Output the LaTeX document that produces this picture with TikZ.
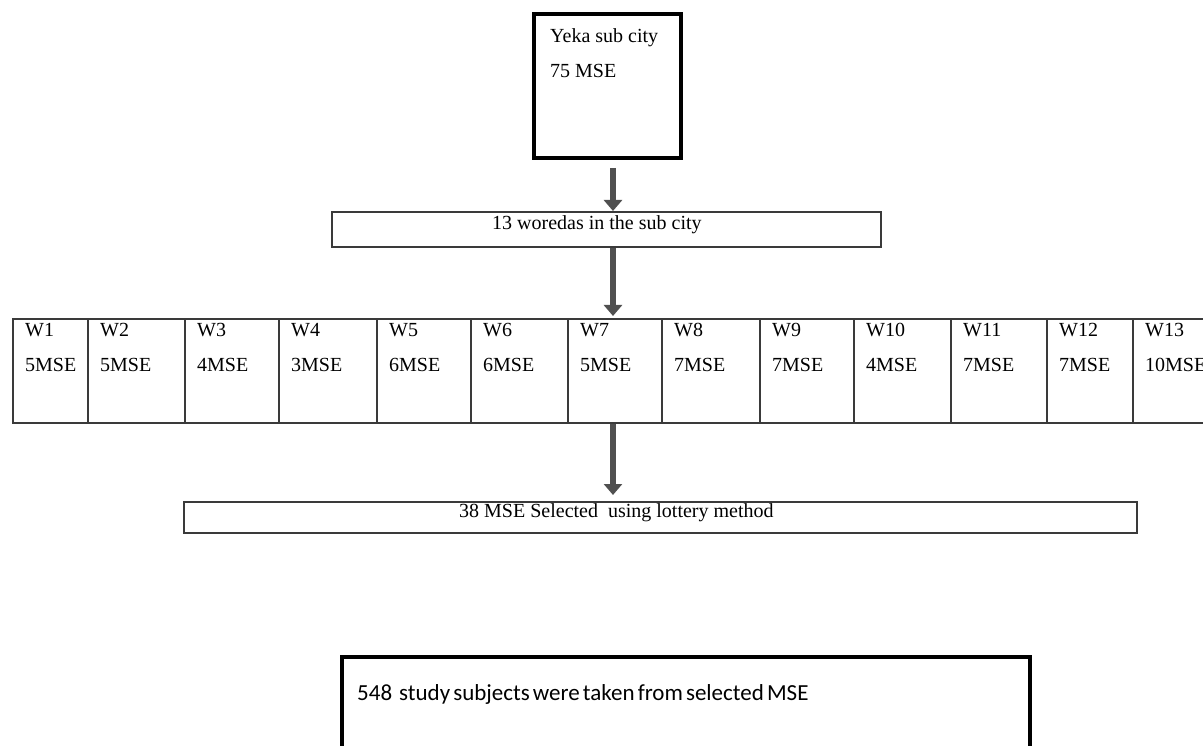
\documentclass[tikz,border=0pt]{standalone}
\usepackage{fontspec}
\setmainfont{Liberation Serif}
\newfontfamily\calib[WordSpace=0.6]{Carlito}
\usetikzlibrary{arrows.meta}
\definecolor{arrowgray}{HTML}{505050}
\definecolor{linegray}{HTML}{3A3A3A}
\tikzset{
  x=1pt, y=-1pt,
  thickbox/.style={draw=black, line width=4pt, fill=white},
  thinbox/.style={draw=linegray, line width=1.6pt},
  cell/.style={draw=linegray, line width=1.6pt},
  txt/.style={anchor=base west, inner sep=0pt, font=\fontsize{20}{24}\selectfont},
  btxt/.style={anchor=base west, inner sep=0pt, font=\calib\fontsize{23}{28}\selectfont},
  flow/.style={draw=arrowgray, line width=6pt, -{Triangle[width=18pt,length=11pt]}, color=arrowgray},
}
\begin{document}
\begin{tikzpicture}
\useasboundingbox (0,0) rectangle (1203,746);
\clip (0,0) rectangle (1203,746);
\coordinate (ax) at (613,0);
% top box
\node[thickbox, minimum width=147pt, minimum height=144pt, inner sep=0pt, anchor=north west] (top) at (532,12) {};
\node[txt] (t1) at (550,43) {Yeka sub city};
\node[txt] (t2) at (550,78) {75 MSE};
% woredas box
\node[thinbox, minimum width=549pt, minimum height=35pt, inner sep=0pt, anchor=north west] (wbox) at (331,211) {};
\node[txt] (wt) at (492,230) {13 woredas in the sub city};
% row of cells
\foreach \i/\l/\r/\n in {1/12/87/5,2/87/184/5,3/184/278/4,4/278/376/3,5/376/470/6,6/470/567/6,7/567/661/5,8/661/759/7,9/759/853/7,10/853/950/4,11/950/1046/7,12/1046/1132/7,13/1132/1240/10}{
  \node[cell, minimum width=\r-\l, minimum height=104pt, inner sep=0pt, anchor=north west] (c\i) at (\l,318) {};
  \node[txt] (w\i) at (\l+13,336) {W\i};
  \node[txt] (m\i) at (\l+13,371) {\n MSE};
}
% selected box
\node[thinbox, minimum width=953pt, minimum height=31pt, inner sep=0pt, anchor=north west] (sel) at (183,501) {};
\node[txt] (st) at (459,517) {38 MSE Selected\ \ using lottery method};
% bottom box
\node[thickbox, minimum width=688pt, minimum height=140pt, inner sep=0pt, anchor=north west] (bot) at (340,655) {};
\node[btxt] (bt) at (357,700) {548\hspace{7pt}study subjects were taken from selected MSE};
% arrows
\draw[flow] ([yshift=-8pt]top.south -| ax) -- (wbox.north -| ax);
\draw[flow] (wbox.south -| ax) -- ([yshift=2pt]c7.north -| ax);
\draw[flow] (c7.south -| ax) -- ([yshift=6pt]sel.north -| ax);
\end{tikzpicture}
\end{document}
